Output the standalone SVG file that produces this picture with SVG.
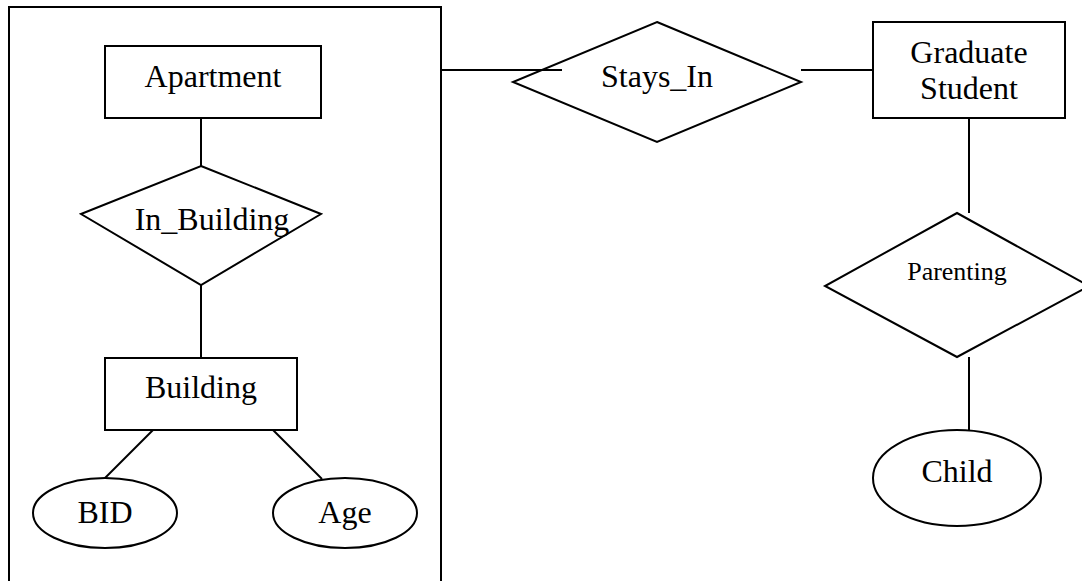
<svg xmlns="http://www.w3.org/2000/svg" width="1082" height="581" viewBox="0 0 1082 581">
<style>
.s{fill:#fff;stroke:#000;stroke-width:2}
.l{fill:none;stroke:#000;stroke-width:2}
.t{font-family:"Liberation Serif","Times New Roman",serif;font-size:32px;fill:#000;text-anchor:middle}
.p{font-size:26px}
</style>
<rect width="1082" height="581" fill="#fff"/>
<g id="aggregate-box">
<path class="l" d="M9,581 V7 H441 V581"/>
</g>
<g id="connectors">
<line class="l" x1="201" y1="118" x2="201" y2="166"/>
<line class="l" x1="201" y1="285" x2="201" y2="358"/>
<line class="l" x1="153" y1="430" x2="105" y2="478"/>
<line class="l" x1="273" y1="430" x2="322" y2="479"/>
<line class="l" x1="969" y1="118" x2="969" y2="213"/>
<line class="l" x1="969" y1="357" x2="969" y2="430"/>
</g>
<g id="apartment">
<rect class="s" x="105" y="46" width="216" height="72"/>
<text class="t" x="213" y="87">Apartment</text>
</g>
<g id="in-building">
<polygon class="s" points="201,166 321,214 201,285 81,214"/>
<text class="t" x="212" y="230">In_Building</text>
</g>
<g id="building">
<rect class="s" x="105" y="358" width="192" height="72"/>
<text class="t" x="201" y="398">Building</text>
</g>
<g id="bid">
<ellipse class="s" cx="105" cy="513" rx="72" ry="35"/>
<text class="t" x="105" y="523">BID</text>
</g>
<g id="age">
<ellipse class="s" cx="345" cy="513" rx="72" ry="35"/>
<text class="t" x="345" y="523">Age</text>
</g>
<g id="stays-in">
<polygon class="s" points="657,22 801,82 657,142 513,82"/>
<text class="t" x="657" y="87">Stays_In</text>
</g>
<g id="stays-in-links">
<line class="l" x1="441" y1="70" x2="562" y2="70"/>
<line class="l" x1="801" y1="70" x2="873" y2="70"/>
</g>
<g id="graduate-student">
<rect class="s" x="873" y="22" width="192" height="96"/>
<text class="t" x="969" y="63">Graduate</text>
<text class="t" x="969" y="99">Student</text>
</g>
<g id="parenting">
<polygon class="s" points="957,213 1089,286 957,357 825,286"/>
<text class="t p" x="957" y="280">Parenting</text>
</g>
<g id="child">
<ellipse class="s" cx="957" cy="478" rx="84" ry="48"/>
<text class="t" x="957" y="482">Child</text>
</g>
</svg>
